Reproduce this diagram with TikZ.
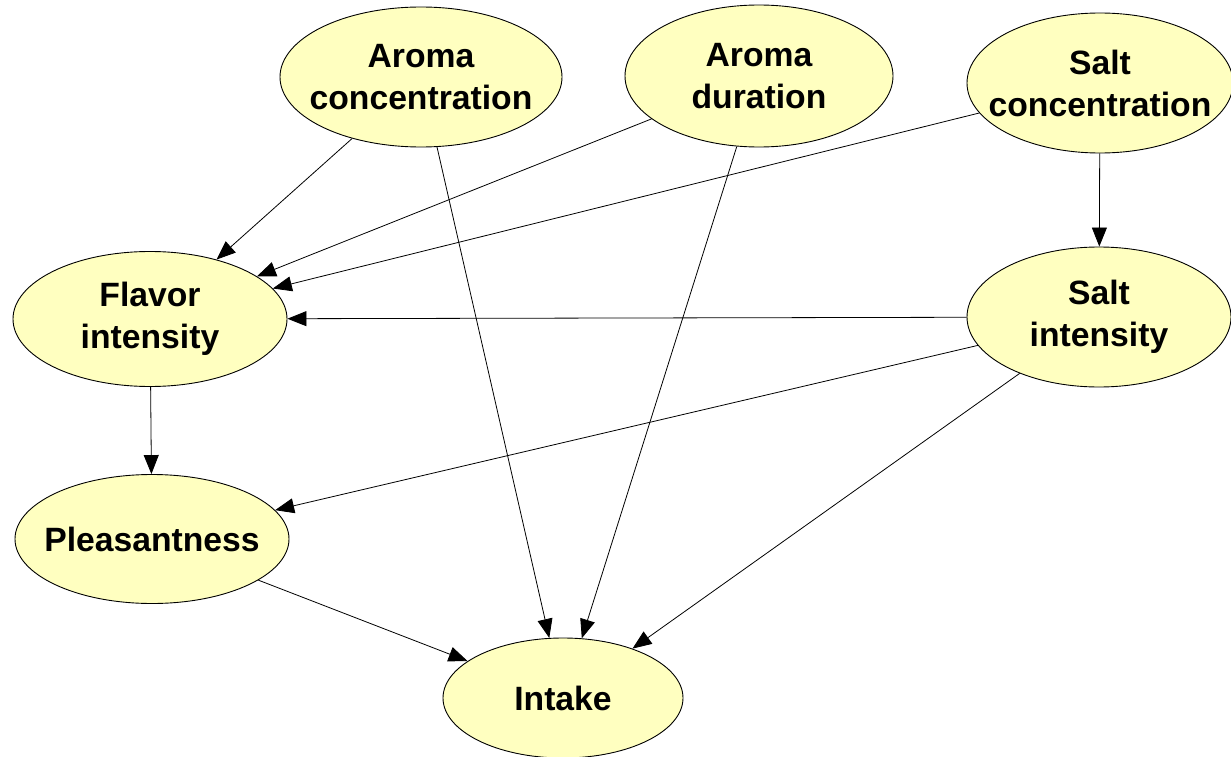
\documentclass[tikz,border=0pt]{standalone}
\usepackage{fontspec}
\setmainfont{Liberation Sans}
\usetikzlibrary{shapes.geometric,arrows.meta}
\definecolor{nodefill}{RGB}{255,255,192}
\tikzset{
  var/.style n args={3}{ellipse, draw=black, line width=0.9pt, fill=nodefill, inner sep=0pt,
    minimum width=#1, minimum height=#2,
    label={[align=center, font=\fontsize{33.7}{42}\selectfont\bfseries, inner sep=0pt]center:#3}},
  conn/.style={line width=0.8pt, -{Triangle[length=19pt,width=15pt]}}
}
\begin{document}
\begin{tikzpicture}[x=1pt,y=-1pt]
\useasboundingbox (0,0) rectangle (1231,757);
\node[var={282pt}{140pt}{Aroma\\concentration}] (ac) at (421,77) {};
\node[var={268pt}{142pt}{Aroma\\duration}] (ad) at (759,76) {};
\node[var={266pt}{140pt}{Salt\\concentration}] (sc) at (1100,83) {};
\node[var={274pt}{135pt}{Flavor\\intensity}] (fi) at (150,319) {};
\node[var={264pt}{140pt}{Salt\\intensity}] (si) at (1099,317) {};
\node[var={274pt}{129pt}{Pleasantness}] (pl) at (152,539) {};
\node[var={240pt}{120pt}{Intake}] (in) at (563,698) {};

\draw[conn] (ac) -- (fi);
\draw[conn] (ac) -- (in);
\draw[conn] (ad) -- (fi);
\draw[conn] (ad) -- (in);
\draw[conn] (sc) -- (fi);
\draw[conn] (sc) -- (si);
\draw[conn] (si) -- (fi);
\draw[conn] (si) -- (pl);
\draw[conn] (si) -- (in);
\draw[conn] (fi) -- (pl);
\draw[conn] (pl) -- (in);
\end{tikzpicture}
\end{document}
